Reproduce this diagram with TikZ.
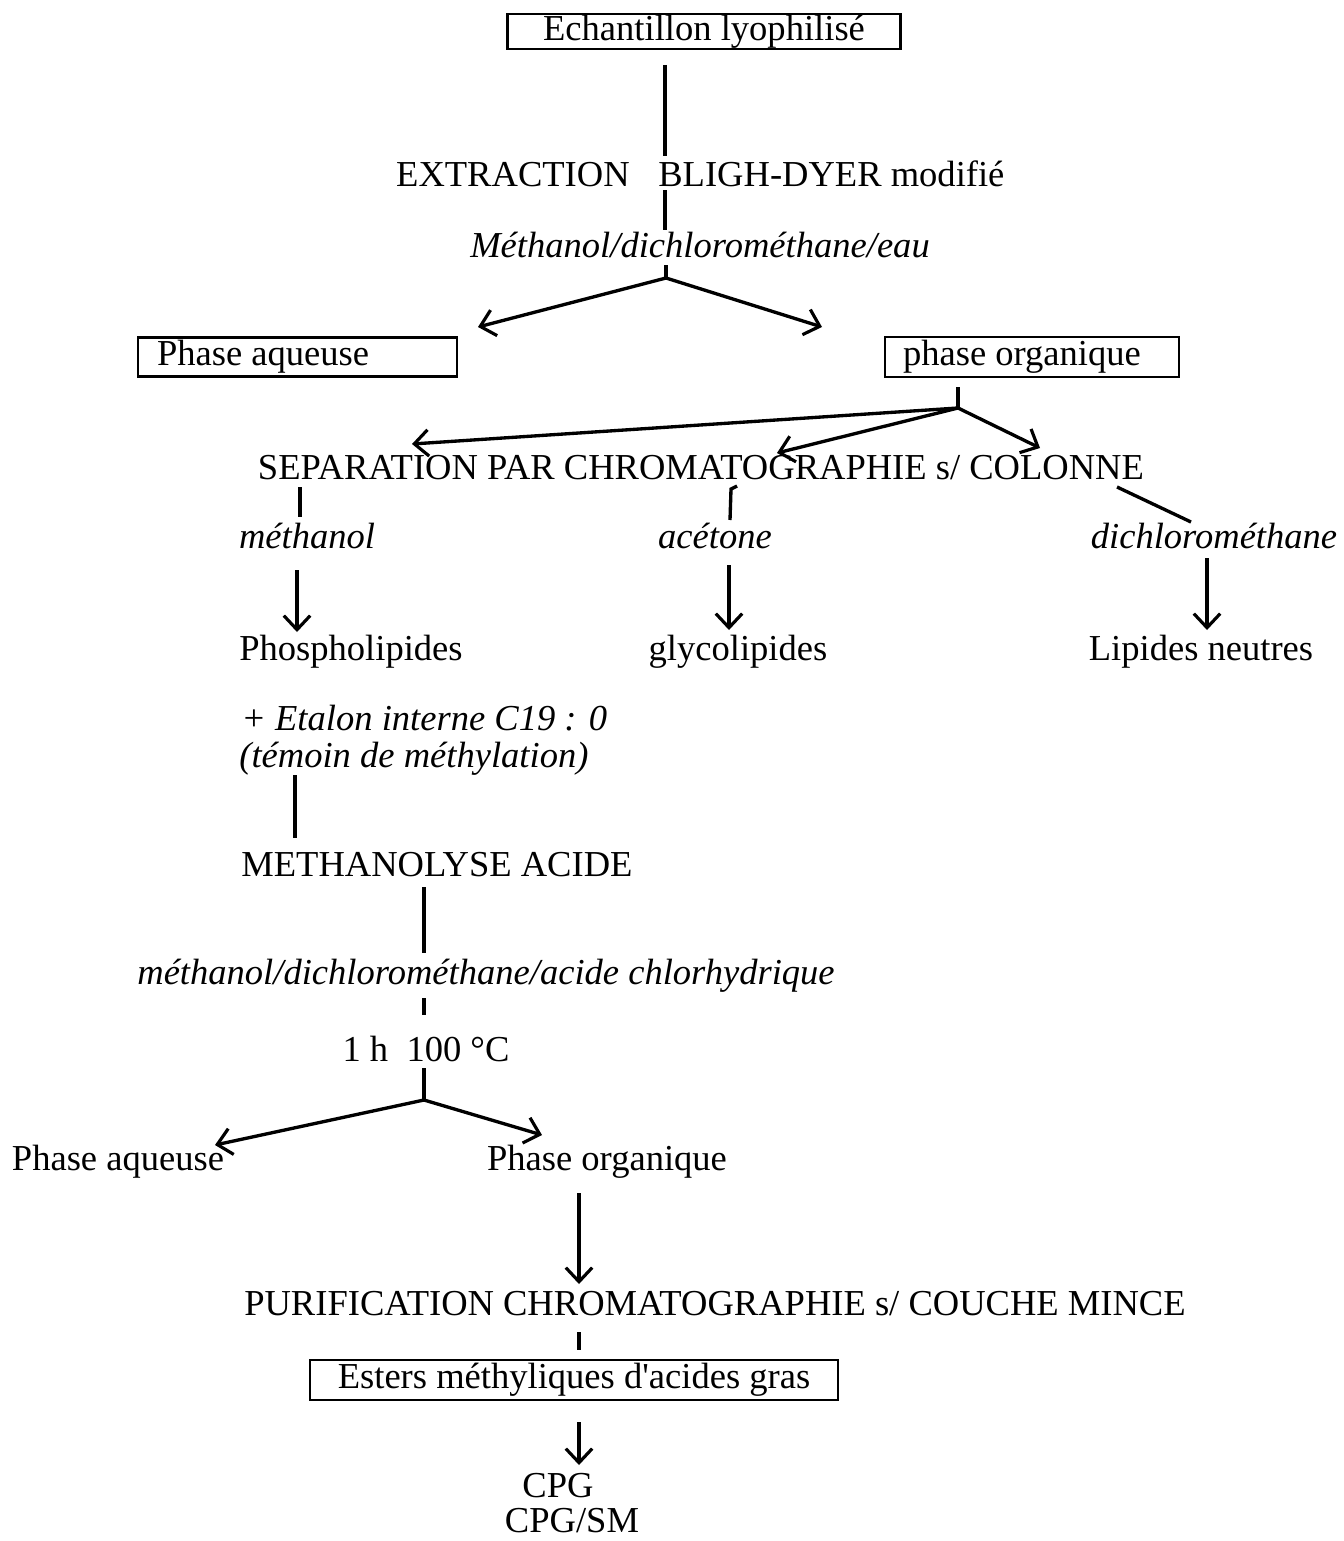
\documentclass[tikz,border=0pt]{standalone}
\usepackage{fontspec}
\setmainfont{Liberation Serif}
\usetikzlibrary{arrows.meta}
\begin{document}
\begin{tikzpicture}[x=0.02cm,y=-0.02cm,
  font=\fontsize{20.8}{24}\selectfont,
  ln/.style={line width=1.9pt},
  arr/.style={ln,-{Straight Barb[length=8pt,width=15pt,line width=1.8pt]}},
  box/.style={draw,line width=1.3pt,inner ysep=0pt},
  lbl/.style={inner sep=0pt,anchor=base}]
\useasboundingbox (0,0) rectangle (1343,1541);

% nodes
\node[box,minimum width=7.86cm,minimum height=0.70cm] (ech) at (704,31.5) {Echantillon lyophilisé};
\node[lbl,anchor=base east] (extr) at (630,186) {EXTRACTION};
\node[lbl,anchor=base west] (bligh) at (658,186) {BLIGH-DYER modifié};
\node[lbl] (solv1) at (700,257) {\itshape Méthanol/dichlorométhane/eau};
\node[box,text width=5.62cm,inner xsep=0.38cm,minimum height=0.78cm,align=flush left] (paq) at (297.5,357) {Phase aqueuse};
\node[box,text width=5.16cm,inner xsep=0.36cm,minimum height=0.80cm,align=flush left] (porg) at (1032,357) {phase organique};
\node[lbl] (sep) at (701,479) {SEPARATION PAR CHROMATOGRAPHIE s/ COLONNE};
\node[lbl] (meoh) at (307,548) {\itshape méthanol};
\node[lbl] (acet) at (715,548) {\itshape acétone};
\node[lbl] (dcm) at (1214,548) {\itshape dichlorométhane};
\node[lbl] (phos) at (351,660) {Phospholipides};
\node[lbl] (glyc) at (738,660) {glycolipides};
\node[lbl] (lneu) at (1201,660) {Lipides neutres};
\node[lbl,anchor=base west] (etal) at (241,730) {\itshape + Etalon interne C19 : 0};
\node[lbl,anchor=base west] (temo) at (239,767) {\itshape (témoin de méthylation)};
\node[lbl,anchor=base west] (meth) at (241,876) {METHANOLYSE ACIDE};
\node[lbl] (solv2) at (486,984) {\itshape méthanol/dichlorométhane/acide chlorhydrique};
\node[lbl] (temp) at (426,1061) {1 h\ \ 100 °C};
\node[lbl] (paq2) at (118,1170) {Phase aqueuse};
\node[lbl] (porg2) at (607,1170) {Phase organique};
\node[lbl] (purif) at (715,1315) {PURIFICATION CHROMATOGRAPHIE s/ COUCHE MINCE};
\node[box,minimum width=10.56cm,minimum height=0.80cm] (est) at (574,1380) {Esters méthyliques d\textquotesingle acides gras};
\node[lbl] (cpg) at (558,1497) {CPG};
\node[lbl] (cpgsm) at (572,1532) {CPG/SM};

% branch points and free ends
\coordinate (a1) at (665,65);   \coordinate (a2) at (665,156);
\coordinate (b1) at (665,190);  \coordinate (b2) at (665,230);
\coordinate (c1) at (666,265);  \coordinate (fork1) at (666,278);
\coordinate (paqT) at (478,327); \coordinate (porgT) at (822,327);
\coordinate (d1) at (958,387);  \coordinate (fork2) at (958,408);
\coordinate (sepL) at (412,444); \coordinate (sepM) at (777,453); \coordinate (sepR) at (1040,448);
\coordinate (m1) at (300,487);  \coordinate (m2) at (300,517);
\coordinate (ac0) at (737,486); \coordinate (ac1) at (731,489); \coordinate (ac2) at (730,520);
\coordinate (dc1) at (1117,487); \coordinate (dc2) at (1191,522);
\coordinate (p1) at (297,570);  \coordinate (p2) at (297,632);
\coordinate (g1) at (729,565);  \coordinate (g2) at (729,630);
\coordinate (n1) at (1207,558); \coordinate (n2) at (1207,630);
\coordinate (e1) at (295,775);  \coordinate (e2) at (295,838);
\coordinate (h1) at (424,887);  \coordinate (h2) at (424,953);
\coordinate (k1) at (424,998);  \coordinate (k2) at (424,1015);
\coordinate (t1) at (424,1068); \coordinate (fork3) at (424,1100);
\coordinate (aqT) at (215,1145); \coordinate (orT) at (542,1135);
\coordinate (u1) at (579,1193); \coordinate (u2) at (579,1284);
\coordinate (v1) at (579,1332); \coordinate (v2) at (579,1350);
\coordinate (w1) at (579,1422); \coordinate (w2) at (579,1465);

% connectors
\draw[ln] (a1) -- (a2);
\draw[ln] (b1) -- (b2);
\draw[ln] (c1) -- (fork1);
\draw[arr] (fork1) -- (paqT);
\draw[arr] (fork1) -- (porgT);
\draw[ln] (d1) -- (fork2);
\draw[arr] (fork2) -- (sepL);
\draw[arr] (fork2) -- (sepM);
\draw[arr] (fork2) -- (sepR);
\draw[ln] (m1) -- (m2);
\draw[ln] (ac0) -- (ac1) -- (ac2);
\draw[ln] (dc1) -- (dc2);
\draw[arr] (p1) -- (p2);
\draw[arr] (g1) -- (g2);
\draw[arr] (n1) -- (n2);
\draw[ln] (e1) -- (e2);
\draw[ln] (h1) -- (h2);
\draw[ln] (k1) -- (k2);
\draw[ln] (t1) -- (fork3);
\draw[arr] (fork3) -- (aqT);
\draw[arr] (fork3) -- (orT);
\draw[arr] (u1) -- (u2);
\draw[ln] (v1) -- (v2);
\draw[arr] (w1) -- (w2);
\end{tikzpicture}
\end{document}
